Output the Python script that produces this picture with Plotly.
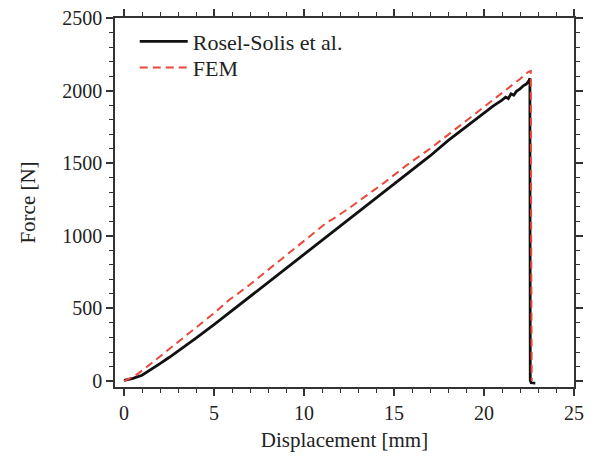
import plotly.graph_objects as go

# Experimental curve (Rosel-Solis et al.)
exp_x = [0, 0.5, 1, 1.5, 2, 2.5, 3, 4, 5, 6, 7, 8, 9, 10, 11, 12, 13, 14, 15, 16, 17,
         18, 19, 20, 20.5, 21, 21.2, 21.35, 21.5, 21.65, 21.8, 22.0, 22.2, 22.35, 22.5,
         22.55, 22.57, 22.62, 22.85]
exp_y = [5, 18, 40, 78, 120, 162, 205, 295, 388, 485, 580, 675, 772, 868, 965, 1062, 1160,
         1255, 1352, 1450, 1550, 1655, 1752, 1848, 1893, 1935, 1955, 1945, 1978, 1968, 1995,
         2012, 2035, 2045, 2068, 2085, 5, -12, -14]

# FEM curve
fem_x = [0, 0.6, 1.17, 2.0, 2.93, 4.0, 5.06, 5.9, 6.1, 7, 8, 9, 10, 11.3, 11.6, 12.5, 13.5,
         14.5, 15.7, 17, 18, 19, 20, 21, 22, 22.45, 22.6, 22.62, 22.65]
fem_y = [0, 35, 87, 170, 257, 365, 473, 565, 580, 665, 765, 865, 960, 1095, 1115, 1190, 1280,
         1370, 1486, 1600, 1695, 1790, 1888, 1985, 2080, 2128, 2135, 1000, 0]

x_ticks = [0, 5, 10, 15, 20, 25]
y_ticks = [0, 500, 1000, 1500, 2000, 2500]

FONT = "Liberation Serif"

fig = go.Figure()
fig.add_trace(go.Scatter(x=exp_x, y=exp_y, mode="lines", name="Rosel-Solis et al.",
                         line=dict(color="#111111", width=2.8), legend="legend"))
fig.add_trace(go.Scatter(x=fem_x, y=fem_y, mode="lines", name="FEM",
                         line=dict(color="#e8483a", width=2, dash="8px,5px"), legend="legend2"))

axis_common = dict(
    showline=True, linecolor="#333333", linewidth=1.5, mirror="allticks",
    ticks="outside", ticklen=7, tickwidth=1.5, tickcolor="#333333",
    showgrid=False, zeroline=False, automargin=False, ticklabeloverflow="allow",
    tickfont=dict(family=FONT, size=20, color="#222222"),
    title_font=dict(family=FONT, size=21, color="#222222"),
)

fig.update_xaxes(range=[-0.5, 25], tickvals=x_ticks,
                 minor=dict(dtick=1, ticks="outside", ticklen=4, tickwidth=1.2,
                            tickcolor="#333333", tick0=0),
                 title_text="Displacement [mm]", title_standoff=10, **axis_common)
fig.update_yaxes(range=[-41, 2500], tickvals=y_ticks,
                 minor=dict(dtick=100, ticks="outside", ticklen=4, tickwidth=1.2,
                            tickcolor="#333333", tick0=0),
                 title_text="Force [N]", title_standoff=21, **axis_common)

leg_common = dict(xanchor="left", yanchor="middle", itemwidth=48,
                  bgcolor="rgba(0,0,0,0)", font=dict(family=FONT, size=22, color="#222222"))

fig.update_layout(
    width=599, height=463,
    margin=dict(l=107, r=33, t=10, b=84),
    paper_bgcolor="white", plot_bgcolor="white",
    showlegend=True,
    legend=dict(x=0.043, y=0.936, **leg_common),
    legend2=dict(x=0.043, y=0.865, **leg_common),
)

fig.write_html("out.html")
